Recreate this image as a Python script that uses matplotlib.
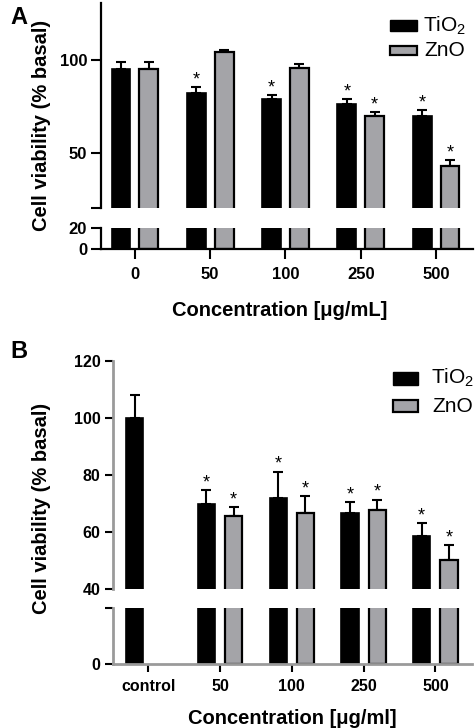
import numpy as np
import matplotlib
matplotlib.use("Agg")
import matplotlib.pyplot as plt
from matplotlib.patches import Rectangle

plt.rcParams['font.family'] = ['Liberation Sans', 'DejaVu Sans']
plt.rcParams['mathtext.default'] = 'regular'

# ---------------- data ----------------
cats_a = ["0", "50", "100", "250", "500"]
tio2_a = [95.5, 82.2, 78.8, 76.4, 70.0]
tio2_a_err = [3.4, 3.2, 2.5, 2.7, 3.2]
zno_a = [95.5, 104.3, 95.8, 69.6, 42.8]
zno_a_err = [3.4, 1.4, 2.1, 2.5, 3.4]
tio2_a_sig = [False, True, True, True, True]
zno_a_sig = [False, False, False, True, True]

cats_b = ["control", "50", "100", "250", "500"]
tio2_b = [100.0, 70.0, 72.1, 66.5, 58.6]
tio2_b_err = [8.0, 4.8, 9.1, 4.0, 4.4]
zno_b = [np.nan, 65.5, 66.7, 67.8, 50.3]
zno_b_err = [np.nan, 3.3, 5.8, 3.6, 5.1]
tio2_b_sig = [False, True, True, True, True]
zno_b_sig = [False, True, True, True, True]

W, H = 475, 728
fig = plt.figure(figsize=(W / 100, H / 100), dpi=100)

GRAY = '#a4a4a8'


def ax_px(x0, x1, ytop, ybot):
    return fig.add_axes([x0 / W, 1 - ybot / H, (x1 - x0) / W, (ybot - ytop) / H])


def draw_bars(ax, n, vals, errs, sigs, offset, width, color, edge_lw, star=True):
    x = np.arange(n) + offset
    v = np.array(vals, dtype=float)
    e = np.array(errs, dtype=float)
    m = ~np.isnan(v)
    ax.bar(x[m], v[m], width=width, color=color, edgecolor='black',
           linewidth=edge_lw, zorder=2)
    ax.errorbar(x[m], v[m], yerr=[np.zeros(m.sum()), e[m]], fmt='none',
                ecolor='black', elinewidth=1.5, capsize=3.6, capthick=1.5, zorder=1)
    if star:
        for xi, vi, ei, s in zip(x, v, e, sigs):
            if s and not np.isnan(vi):
                ax.annotate('*', (xi, vi + ei), xytext=(0, -1), textcoords='offset points',
                            ha='center', va='bottom', fontsize=13, annotation_clip=False)


def style_axis(ax, spine_color, lw):
    for s in ['top', 'right']:
        ax.spines[s].set_visible(False)
    for s in ['left', 'bottom']:
        ax.spines[s].set_color(spine_color)
        ax.spines[s].set_linewidth(lw)
    ax.tick_params(axis='both', direction='out', length=7, width=1.5, colors='black',
                   labelsize=12, pad=3)
    for lab in ax.get_xticklabels() + ax.get_yticklabels():
        lab.set_fontweight('bold')
    ax.patch.set_alpha(0)


# ================= Panel A =================
xl_a = (-0.45, 4.49)
off_a, wid_a = 0.185, 0.25
axA_up = ax_px(101, 473, 3, 208)
axA_lo = ax_px(101, 473, 228, 249)
for ax, yl in [(axA_up, (20, 131)), (axA_lo, (0, 20))]:
    draw_bars(ax, 5, tio2_a, tio2_a_err, tio2_a_sig, -off_a, wid_a, 'black', 1.2,
              star=(ax is axA_up))
    draw_bars(ax, 5, zno_a, zno_a_err, zno_a_sig, off_a, wid_a, GRAY, 1.6,
              star=(ax is axA_up))
    ax.set_xlim(*xl_a)
    ax.set_ylim(*yl)

axA_up.set_yticks([20, 50, 100])
axA_up.set_yticklabels(['', '50', '100'])
axA_up.set_xticks([])
axA_up.spines['bottom'].set_visible(False)
style_axis(axA_up, 'black', 1.6)

axA_lo.set_yticks([0, 20])
axA_lo.set_yticklabels(['0', '20'])
axA_lo.set_xticks(np.arange(5))
axA_lo.set_xticklabels(cats_a)
style_axis(axA_lo, 'black', 1.6)
axA_lo.tick_params(axis='x', pad=6)

fig.text(42 / W, 1 - 125 / H, 'Cell viability (% basal)', rotation=90, ha='center',
         va='center', fontsize=14.5, fontweight='bold')
fig.text(280 / W, 1 - 310 / H, 'Concentration [μg/mL]', ha='center', va='center',
         fontsize=14.5, fontweight='bold')
fig.text(10 / W, 1 - 17 / H, 'A', ha='left', va='center', fontsize=17, fontweight='bold')

# legend A
def legend_item(x0, x1, yt, yb, color, lw, label, tx, ty):
    fig.add_artist(Rectangle((x0 / W, 1 - yb / H), (x1 - x0) / W, (yb - yt) / H,
                             facecolor=color, edgecolor='black', linewidth=lw,
                             transform=fig.transFigure))
    fig.text(tx / W, 1 - ty / H, label, ha='left', va='center', fontsize=15)

legend_item(390, 417, 20, 31, 'black', 1.0, 'TiO$_2$', 423, 26)
legend_item(390, 417, 46, 55, GRAY, 1.6, 'ZnO', 424, 51)

# ================= Panel B =================
xl_b = (-0.49, 4.51)
off_b, wid_b = 0.19, 0.24
axB_up = ax_px(113, 472, 361, 589)
axB_lo = ax_px(113, 472, 608, 664)
for ax, yl in [(axB_up, (40, 120)), (axB_lo, (0, 40))]:
    draw_bars(ax, 5, tio2_b, tio2_b_err, tio2_b_sig, -off_b, wid_b, 'black', 1.2,
              star=(ax is axB_up))
    draw_bars(ax, 5, zno_b, zno_b_err, zno_b_sig, off_b, wid_b, GRAY, 1.6,
              star=(ax is axB_up))
    ax.set_xlim(*xl_b)
    ax.set_ylim(*yl)

axB_up.set_yticks([40, 60, 80, 100, 120])
axB_up.set_xticks([])
axB_up.spines['bottom'].set_visible(False)
style_axis(axB_up, '#9a9a9a', 2.0)
axB_up.tick_params(axis='y', labelsize=11.5, length=6)

axB_lo.set_yticks([0, 40])
axB_lo.set_yticklabels(['0', ''])
axB_lo.set_xticks(np.arange(5))
axB_lo.set_xticklabels(cats_b)
style_axis(axB_lo, '#9a9a9a', 2.0)
axB_lo.tick_params(axis='both', labelsize=11.5, length=6)
axB_lo.tick_params(axis='x', pad=5)

fig.text(42 / W, 1 - 508 / H, 'Cell viability (% basal)', rotation=90, ha='center',
         va='center', fontsize=14.5, fontweight='bold')
fig.text(292 / W, 1 - 718 / H, 'Concentration [μg/ml]', ha='center', va='center',
         fontsize=14.5, fontweight='bold')
fig.text(10 / W, 1 - 351 / H, 'B', ha='left', va='center', fontsize=17, fontweight='bold')

legend_item(393, 418, 372, 385, 'black', 1.0, 'TiO$_2$', 431, 378)
legend_item(393, 418, 400, 412, GRAY, 1.6, 'ZnO', 432, 406)

fig.savefig('out.png', dpi=100)
